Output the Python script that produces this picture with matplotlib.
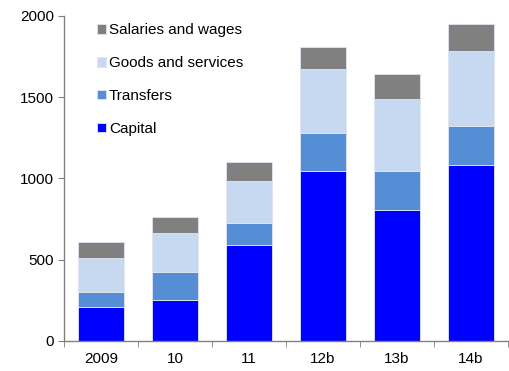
import numpy as np
import matplotlib
matplotlib.use("Agg")
import matplotlib.pyplot as plt

# data ------------------------------------------------------------------
years = ["2009", "10", "11", "12b", "13b", "14b"]
capital = [209, 254, 588, 1047, 805, 1082]
transfers = [92, 170, 137, 232, 240, 240]
goods = [211, 242, 261, 391, 443, 459]
salaries = [95, 96, 112, 137, 155, 166]

plt.rcParams["font.family"] = ["Liberation Sans", "DejaVu Sans"]

fig = plt.figure(figsize=(5.09, 3.71), dpi=100)
ax = fig.add_axes([64 / 509, 1 - 341 / 371, 444 / 509, 325.3 / 371])

x = np.arange(len(years))
w = 0.62
edge = dict(edgecolor="#dfe6f2", linewidth=0.6)

b1 = ax.bar(x, capital, w, color="#0000ff", label="Capital", **edge)
bottom = np.array(capital)
b2 = ax.bar(x, transfers, w, bottom=bottom, color="#558ed5", label="Transfers", **edge)
bottom = bottom + np.array(transfers)
b3 = ax.bar(x, goods, w, bottom=bottom, color="#c6d9f0", label="Goods and services", **edge)
bottom = bottom + np.array(goods)
b4 = ax.bar(x, salaries, w, bottom=bottom, color="#808080", label="Salaries and wages", **edge)

ax.set_xlim(-0.5, 5.5)
ax.set_ylim(0, 2000)
ax.set_yticks([0, 500, 1000, 1500, 2000])

# ticks between the categories, labels in the middle
ax.set_xticks(x)
ax.set_xticklabels(years)
ax.set_xticks(np.arange(-0.5, 6, 1), minor=True)
ax.tick_params(axis="x", which="major", length=0, pad=8, labelsize=11)
ax.tick_params(axis="x", which="minor", length=4, color="#808080", direction="out")
ax.tick_params(axis="y", length=4, color="#808080", labelsize=11, pad=3)

for s in ["top", "right"]:
    ax.spines[s].set_visible(False)
for s in ["left", "bottom"]:
    ax.spines[s].set_color("#808080")
    ax.spines[s].set_linewidth(1.0)

ax.legend(handles=[b4, b3, b2, b1], loc="upper left", bbox_to_anchor=(0.05, 1.01),
          frameon=False, fontsize=11, labelspacing=1.24, handlelength=0.6,
          handleheight=0.6, handletextpad=0.2, borderaxespad=0.3)

fig.savefig("out.png", dpi=100)
